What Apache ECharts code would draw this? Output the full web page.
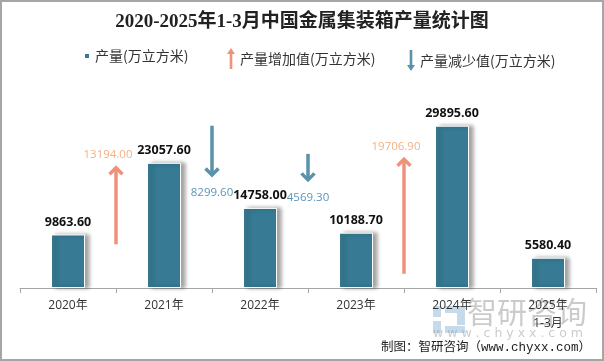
<!DOCTYPE html>
<html>
<head>
<meta charset="utf-8">
<script src="https://cdn.jsdelivr.net/npm/echarts@6/dist/echarts.min.js"></script>
<style>
html,body{margin:0;padding:0;background:#fff;}
#wrap{position:relative;width:604px;height:361px;}
#chart{width:604px;height:361px;}
#frame{position:absolute;left:0;top:0;width:604px;height:361px;box-sizing:border-box;border:2px solid #a6a6a6;pointer-events:none;}
</style>
</head>
<body>
<div id="wrap"><div id="chart"></div><div id="frame"></div></div>
<script>
// ---- data ----
const categories = ['2020年', '2021年', '2022年', '2023年', '2024年', '2025年\n1-3月'];
const production = [9863.60, 23057.60, 14758.00, 10188.70, 29895.60, 5580.40];
// arrows between category i and i+1: [fromIndex, startValue, endValue, changeValue]
const increaseArrows = [[0, 8054, 22259, 13194.00], [3, 2618, 23797, 19706.90]];
const decreaseArrows = [[1, 29893, 20740, 8299.60], [2, 24712, 19824, 4569.30]];

const UP_COLOR = '#f0927b', UP_LABEL = '#f4b183';
const DOWN_COLOR = '#5a92aa', DOWN_LABEL = '#5a95b8';
const BAR_COLOR = '#367a93';

const chart = echarts.init(document.getElementById('chart'), null, {renderer: 'canvas'});

function arrowRenderer(color, labelColor, up) {
  return function (params, api) {
    const i = api.value(0);
    const p1 = api.coord([i, api.value(1)]);
    const p2 = api.coord([i, api.value(2)]);
    const q1 = api.coord([i + 1, api.value(1)]);
    const x = (p1[0] + q1[0]) / 2;
    const y1 = p1[1], y2 = p2[1];
    const dir = up ? 1 : -1;
    const hw = 6.5, hh = 7;
    return {
      type: 'group',
      children: [
        {type: 'line', shape: {x1: x, y1: y1, x2: x, y2: y2 + dir * 1}, style: {stroke: color, lineWidth: 3.5}},
        {type: 'polyline', shape: {points: [[x - hw, y2 + dir * hh], [x, y2 + dir * 0.5], [x + hw, y2 + dir * hh]]},
          style: {stroke: color, lineWidth: 3.5, fill: null, lineJoin: 'miter'}},
        {type: 'text', x: up ? x - 8 : x, y: up ? y2 - 12 : y2 + 17,
          style: {text: api.value(3).toFixed(2), fill: labelColor, font: '11.5px "Open Sans", "DejaVu Sans", sans-serif',
            align: 'center', verticalAlign: 'middle'}}
      ]
    };
  };
}

const upIcon = 'path://M4,0 L8,6 L5.3,6 L5.3,21 L2.7,21 L2.7,6 L0,6 Z';
const downIcon = 'path://M4,21 L8,15 L5.3,15 L5.3,0 L2.7,0 L2.7,15 L0,15 Z';
const legendText = {fontSize: 14, color: '#333', fontFamily: '"Noto Sans CJK SC", sans-serif'};

chart.setOption({
  animation: false,
  title: {
    text: '2020-2025年1-3月中国金属集装箱产量统计图',
    left: 'center', top: 8,
    textStyle: {fontSize: 19, fontWeight: 'bold', color: '#222', fontFamily: '"Liberation Serif", "Noto Sans CJK SC", serif'}
  },
  legend: [
    {data: ['产量(万立方米)'], left: 83, top: 49, padding: 0, itemWidth: 6, itemHeight: 6, itemGap: 0,
      icon: 'rect', textStyle: legendText, selectedMode: false},
    {data: [{name: '产量增加值(万立方米)', icon: upIcon}], left: 227, top: 48, padding: 0, itemWidth: 8, itemHeight: 21,
      textStyle: legendText, selectedMode: false},
    {data: [{name: '产量减少值(万立方米)', icon: downIcon}], left: 407, top: 50, padding: 0, itemWidth: 8, itemHeight: 21,
      textStyle: legendText, selectedMode: false}
  ],
  grid: {left: 20, right: 8, top: 98, bottom: 73},
  xAxis: {
    type: 'category', data: categories,
    axisLine: {lineStyle: {color: '#a6a6a6'}},
    axisTick: {show: true, length: 5, lineStyle: {color: '#a6a6a6'}},
    axisLabel: {color: '#333', fontSize: 12, margin: 9, lineHeight: 18, fontFamily: '"Open Sans", "Noto Sans CJK SC", sans-serif'}
  },
  yAxis: {type: 'value', min: 0, max: 35000, show: false, splitLine: {show: false}},
  series: [
    {
      name: '产量(万立方米)', type: 'bar', data: production, barWidth: 34,
      itemStyle: {color: BAR_COLOR, borderColor: '#fff', borderWidth: 1,
        shadowColor: 'rgba(0,0,0,0.35)', shadowBlur: 4, shadowOffsetX: 4, shadowOffsetY: 0},
      label: {show: true, position: 'top', distance: 6, color: '#111', fontSize: 12.5, fontWeight: 'bold',
        fontFamily: '"Open Sans", "DejaVu Sans", sans-serif', formatter: p => p.value.toFixed(2)}
    },
    {
      name: '产量增加值(万立方米)', type: 'custom', data: increaseArrows, itemStyle: {color: UP_COLOR},
      renderItem: arrowRenderer(UP_COLOR, UP_LABEL, true), z: 5
    },
    {
      name: '产量减少值(万立方米)', type: 'custom', data: decreaseArrows, itemStyle: {color: DOWN_COLOR},
      renderItem: arrowRenderer(DOWN_COLOR, DOWN_LABEL, false), z: 5
    }
  ],
  graphic: [
    // watermark logo
    {type: 'group', left: 433, top: 306, silent: true, children: [
      {type: 'rect', shape: {x: 0, y: 0, width: 8, height: 11}, style: {fill: 'rgba(150,190,220,0.55)'}},
      {type: 'rect', shape: {x: 0, y: 15, width: 8, height: 12}, style: {fill: 'rgba(150,190,220,0.55)'}},
      {type: 'rect', shape: {x: 12, y: 0, width: 20, height: 7}, style: {fill: 'rgba(150,190,220,0.55)'}},
      {type: 'rect', shape: {x: 24, y: 7, width: 8, height: 12}, style: {fill: 'rgba(150,190,220,0.55)'}},
      {type: 'rect', shape: {x: 12, y: 20, width: 20, height: 7}, style: {fill: 'rgba(150,190,220,0.55)'}}
    ]},
    {type: 'text', left: 467, top: 297, silent: true,
      style: {text: '智研咨询', fill: 'rgba(140,140,140,0.45)', font: '30px "Noto Sans CJK SC", sans-serif'}},
    {type: 'text', left: 433, top: 327, silent: true,
      style: {text: 'w w w . c h y x x . c o m', fill: 'rgba(140,140,140,0.45)', font: '12.5px "DejaVu Sans", sans-serif'}},
    {type: 'text', right: 13, top: 341, silent: true,
      style: {text: '制图：智研咨询（www.chyxx.com）', fill: '#222', font: '12.5px "Liberation Mono", "Noto Sans CJK SC", monospace'}}
  ]
});
</script>
</body>
</html>
